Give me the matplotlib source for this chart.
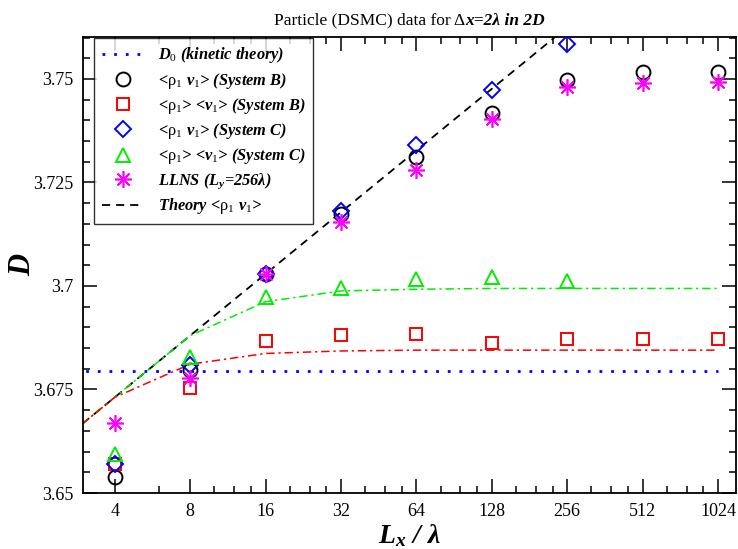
import numpy as np
import matplotlib
matplotlib.use('Agg')
import matplotlib.pyplot as plt
from matplotlib.offsetbox import TextArea, HPacker, AnchoredOffsetbox

plt.rc('font', family='serif', serif=['Liberation Serif', 'DejaVu Serif'], size=13)
plt.rc('mathtext', fontset='custom', rm='Liberation Serif',
       it='Liberation Serif:italic:bold', bf='Liberation Serif:italic:bold')
plt.rc('axes', linewidth=1.3)

# Data
L = [4, 8, 16, 32, 64, 128, 256, 512, 1024]
L_sysC = [4, 8, 16, 32, 64, 128, 256]
sysB_corr = [3.6539, 3.6796, 3.7028, 3.7174, 3.7311, 3.7417, 3.7497, 3.7517, 3.7517]
sysB_prod = [3.6570, 3.6754, 3.6866, 3.6882, 3.6884, 3.6862, 3.6872, 3.6872, 3.6872]
sysC_corr = [3.6571, 3.6810, 3.7030, 3.7180, 3.7341, 3.7473, 3.7585]
sysC_prod = [3.6595, 3.6829, 3.6973, 3.6996, 3.7016, 3.7022, 3.7012]
llns = [3.6669, 3.6778, 3.7029, 3.7155, 3.7281, 3.7403, 3.7481, 3.7489, 3.7493]

d0_L = [2, 1024]
d0 = [3.6794, 3.6794]

theory_L = [2, 4, 8, 16, 32, 64, 128, 256]
theory_corr = [3.6582, 3.6731, 3.6880, 3.7029, 3.7178, 3.7327, 3.7476, 3.7625]

curve_L = [2, 4, 8, 16, 32, 64, 128, 256, 512, 1024]
curve_B = [3.6582, 3.6731, 3.6811, 3.6837, 3.6843, 3.6845, 3.6845, 3.6845, 3.6845, 3.6845]
curve_C = [3.6582, 3.6731, 3.6880, 3.6962, 3.6988, 3.6992, 3.6994, 3.6994, 3.6994, 3.6994]

xmajor = [4, 8, 16, 32, 64, 128, 256, 512, 1024]
xminor = [6, 10, 12, 14, 20, 24, 28, 40, 48, 56, 80, 96, 112, 160, 192, 224,
          320, 384, 448, 640, 768, 896]
ymajor = [3.65, 3.675, 3.7, 3.725, 3.75]
ylabels = ['3.65', '3.675', '3.7', '3.725', '3.75']

fig, ax = plt.subplots(figsize=(7.38, 5.49), dpi=100)
fig.subplots_adjust(left=0.1125, right=0.9973, top=0.9332, bottom=0.102)

ax.set_xscale('log', base=2)

dashdot = (0, (5.5, 2.5, 1.5, 2.5))
ax.plot(d0_L, d0, color='#0000ff', lw=2, linestyle=(0, (1, 3.2)),
        label=r'$D_0$ (kinetic theory)')
ax.plot(theory_L, theory_corr, color='k', lw=1.3, linestyle=(0, (4.5, 3.3)), zorder=2)
ax.plot(curve_L, curve_C, color='#00ee00', lw=1.1, linestyle=dashdot, zorder=2.1)
ax.plot(curve_L, curve_B, color='#ff0000', lw=1.1, linestyle=dashdot, zorder=2.1)

mk = dict(linestyle='none', markerfacecolor='none', markeredgewidth=1.4, zorder=3)
ax.plot(L, sysB_corr, marker='o', ms=10, color='k',
        label=r'<$\mathrm{\rho}_1\ v_1$> (System B)', **mk)
ax.plot(L, sysB_prod, marker='s', ms=9, color='#ff0000',
        label=r'<$\mathrm{\rho}_1$> <$v_1$> (System B)', **mk)
ax.plot(L_sysC, sysC_corr, marker='D', ms=8, color='#0000ff',
        label=r'<$\mathrm{\rho}_1\ v_1$> (System C)', **mk)
ax.plot(L_sysC, sysC_prod, marker='^', ms=10, color='#00ee00',
        label=r'<$\mathrm{\rho}_1$> <$v_1$> (System C)', **mk)
ax.plot(L, llns, marker=(8, 2, 0), ms=12, color='#ff00ff', linestyle='none',
        markeredgewidth=1.2, zorder=3, label=r'LLNS ($L_y$=256λ)')
# legend entry for the theory line
ax.plot([], [], color='k', lw=1.3, linestyle=(0, (4.5, 3.3)),
        label=r'Theory <$\mathrm{\rho}_1\ v_1$>')

ax.set_xlim(2.99, 1208)
ax.set_ylim(3.65, 3.7602)

ax.set_xticks(xmajor)
ax.set_xticklabels([str(v) for v in xmajor])
ax.set_xticks(xminor, minor=True)
ax.set_xticklabels([], minor=True)
ax.set_yticks(ymajor)
ax.set_yticklabels(ylabels)
ax.set_yticks(np.arange(3.655, 3.7601, 0.005), minor=True)

ax.tick_params(which='both', direction='in', top=True, right=True, width=1.1)
ax.tick_params(which='major', length=10, pad=7)
ax.tick_params(which='minor', length=5)

ax.set_xlabel(r'$L_x$ / λ', fontsize=20, fontweight='bold', fontstyle='italic', labelpad=2)
ax.set_ylabel('D', fontsize=22, fontweight='bold', fontstyle='italic', labelpad=-3)

# title: regular part + bold italic part, baseline aligned
t1 = TextArea('Particle (DSMC) data for Δ', textprops=dict(fontsize=12.5))
t2 = TextArea('x=2λ in 2D', textprops=dict(fontsize=12.5, fontweight='bold', fontstyle='italic'))
title_box = AnchoredOffsetbox(loc='lower center', child=HPacker(children=[t1, t2], align='baseline', pad=0, sep=0),
                              bbox_to_anchor=(0.5, 1.0), bbox_transform=ax.transAxes,
                              frameon=False, borderpad=0.45, pad=0)
ax.add_artist(title_box)

leg = ax.legend(loc='upper left', bbox_to_anchor=(0.017, 0.997), borderaxespad=0,
                fancybox=False, numpoints=1, handlelength=2.6, handletextpad=0.85,
                labelspacing=0.32, borderpad=0.45,
                prop=dict(family='Liberation Serif', weight='bold', style='italic', size=11.8))
leg.get_frame().set_edgecolor('k')
leg.get_frame().set_linewidth(1.0)

plt.savefig('out.png', dpi=100)
